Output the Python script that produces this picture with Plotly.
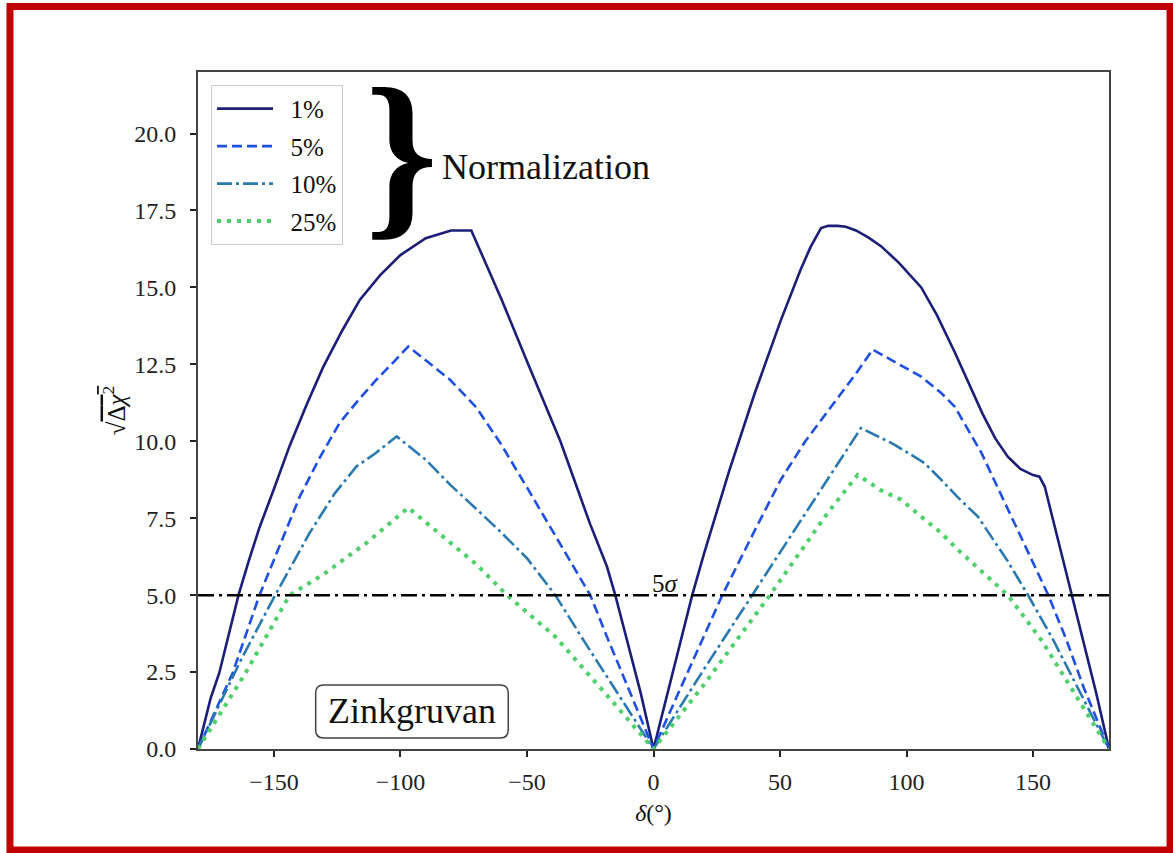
import plotly.graph_objects as go

# ---- data ----
x_1pct = [-180, -175, -171.6, -168, -164, -160, -155.7, -150, -143.8, -137, -130.6, -123, -116, -108, -100,
          -90, -80, -72, -60, -50, -36.8, -25, -18.4, -15.1, -10.4, -5, 0,
          5, 10, 15.3, 20, 30, 40, 50.3, 58, 62, 66.2, 69, 72.8, 76, 80, 85, 89.9, 97, 105.8, 112, 119,
          125, 130, 135, 140, 145, 150, 152.5, 154.6, 160, 165.2, 169.8, 175, 180]
y_1pct = [0, 1.65, 2.47, 3.7, 5.0, 6.1, 7.2, 8.45, 9.85, 11.2, 12.4, 13.6, 14.6, 15.4, 16.05,
          16.6, 16.85, 16.85, 14.6, 12.6, 10.0, 7.3, 5.93, 5.0, 3.54, 1.8, 0,
          1.65, 3.3, 5.0, 6.36, 9.06, 11.56, 13.93, 15.55, 16.3, 16.93, 17.0, 17.0, 16.97, 16.85, 16.62,
          16.34, 15.8, 15.0, 14.1, 12.9, 11.8, 10.9, 10.1, 9.5, 9.1, 8.9, 8.85, 8.53, 6.75, 5.0, 3.54, 1.8, 0]

x_5pct = [-180, -166.3, -155.7, -148, -139.8, -132, -124, -116, -109.5, -103, -96.9, -88, -80.4, -70, -60.6,
          -50, -40, -32, -25, -18.4, -10, 0,
          10, 20, 27.2, 40, 50.3, 60, 70, 80, 86.6, 95, 105.8, 113.7, 119, 129.6, 140, 150, 156, 163.2, 170, 180]
y_5pct = [0, 2.47, 5.0, 6.55, 8.2, 9.45, 10.6, 11.4, 12.0, 12.55, 13.08, 12.5, 12.0, 11.1, 9.95,
          8.5, 7.1, 6.0, 5.0, 3.65, 2.0, 0,
          1.85, 3.7, 5.0, 7.1, 8.75, 10.0, 11.1, 12.2, 12.98, 12.6, 12.1, 11.57, 11.13, 9.62, 7.8, 6.05, 5.0,
          3.54, 2.0, 0]

x_10pct = [-180, -163, -149.5, -135.9, -126, -117.4, -110, -101.5, -90, -80.4, -70, -60.6, -50, -38.8,
           -27.7, -15, 0,
           20, 39, 58.2, 70, 82, 95, 107, 113.7, 120, 128.2, 140, 148, 158, 180]
y_10pct = [0, 2.9, 5.0, 7.02, 8.3, 9.18, 9.6, 10.16, 9.4, 8.59, 7.8, 7.07, 6.2, 5.0,
           3.54, 1.9, 0,
           2.6, 5.0, 7.45, 8.9, 10.43, 9.9, 9.3, 8.75, 8.2, 7.55, 6.1, 5.0, 3.54, 0]

x_25pct = [-180, -161.2, -143.8, -130.7, -113.4, -96.9, -81.7, -70, -57.9, -38.8, -20, 0,
           20, 46, 68.8, 80.7, 90, 97.9, 105.8, 113.7, 120, 130, 140, 153.3, 165, 180]
y_25pct = [0, 2.47, 5.0, 5.66, 6.7, 7.84, 6.8, 6.0, 5.0, 3.65, 1.9, 0,
           2.1, 5.0, 7.67, 8.91, 8.4, 8.1, 7.55, 7.02, 6.5, 5.75, 5.0, 3.54, 2.0, 0]

series_names = ["1%", "5%", "10%", "25%"]
threshold = 5.0
x_range = [-180, 180]
y_range = [0, 22]
x_ticks = [-150, -100, -50, 0, 50, 100, 150]
y_ticks = [0, 2.5, 5, 7.5, 10, 12.5, 15, 17.5, 20]

FONT = "Liberation Serif"

fig = go.Figure()
styles = [
    dict(color="#1b1f78", width=2.6, dash="solid"),
    dict(color="#1f4fe3", width=2.6, dash="10px,5px"),
    dict(color="#2a7ab0", width=2.6, dash="15px,4px,3px,4px"),
    dict(color="#4fd06b", width=4, dash="4px,6px"),
]
for name, xs, ys, st in zip(series_names, [x_1pct, x_5pct, x_10pct, x_25pct],
                            [y_1pct, y_5pct, y_10pct, y_25pct], styles):
    fig.add_trace(go.Scatter(x=xs, y=ys, mode="lines", name="\u2002" + name, legendgroup=name, line=st))

# 5 sigma line
fig.add_trace(go.Scatter(x=x_range, y=[threshold, threshold], mode="lines", showlegend=False,
                         line=dict(color="black", width=2.5, dash="16px,5px,3px,5px")))

axis_common = dict(showgrid=False, zeroline=False, showline=True, mirror=True,
                   linecolor="#444", linewidth=1.8, ticks="outside", ticklen=6,
                   tickwidth=1.5, tickcolor="#222",
                   tickfont=dict(family=FONT, size=24, color="#222"))

fig.update_layout(
    width=1173, height=853,
    margin=dict(l=198, r=64, t=72, b=104),
    paper_bgcolor="white", plot_bgcolor="white",
    font=dict(family=FONT, color="#111"),
    xaxis=dict(range=x_range, tickvals=x_ticks, ticklabelstandoff=4,
               title=dict(text="<i>δ</i>(°)", font=dict(size=24), standoff=10),
               **axis_common),
    yaxis=dict(range=y_range, tickvals=y_ticks, tickformat=".1f", ticklabelstandoff=9,
               title=dict(text='√<span style="text-decoration:overline">Δ<i>χ</i><sup>2</sup></span>',
                          font=dict(size=25), standoff=2),
               **axis_common),
    legend=dict(x=0.0143, y=0.981, xanchor="left", yanchor="top", bgcolor="white",
                bordercolor="#cccccc", borderwidth=1, font=dict(family=FONT, size=25),
                itemwidth=56, tracegroupgap=2),
    showlegend=True,
)

# 5 sigma label
fig.add_annotation(x=4.8, y=threshold, text="5<i>σ</i>", showarrow=False, yanchor="bottom",
                   yshift=-4, font=dict(family=FONT, size=25, color="#111"))

# brace and Normalization
fig.add_annotation(x=-99.5, y=19.4, text="<b>}</b>", showarrow=False, xanchor="center", yanchor="middle",
                   font=dict(family=FONT, size=185, color="black"))
fig.add_annotation(x=-84.4, y=18.9, text="Normalization", showarrow=False, xanchor="left",
                   yanchor="middle", font=dict(family=FONT, size=36, color="#111"))

# Zinkgruvan box
bx0, bx1, by0, by1 = -133.5, -57.4, 0.36, 2.08
rx, ry = 3.2, 0.26
path = (f"M {bx0+rx},{by0} L {bx1-rx},{by0} Q {bx1},{by0} {bx1},{by0+ry} "
        f"L {bx1},{by1-ry} Q {bx1},{by1} {bx1-rx},{by1} L {bx0+rx},{by1} "
        f"Q {bx0},{by1} {bx0},{by1-ry} L {bx0},{by0+ry} Q {bx0},{by0} {bx0+rx},{by0} Z")
fig.add_shape(type="path", path=path, xref="x", yref="y", line=dict(color="#444", width=1.5),
              fillcolor="white", layer="above")
fig.add_annotation(x=(bx0+bx1)/2, y=(by0+by1)/2, text="Zinkgruvan", showarrow=False,
                   font=dict(family=FONT, size=36, color="#111"))

# red outer frame
fig.add_shape(type="rect", xref="paper", yref="paper", x0=-0.2064, x1=1.067, y0=-0.1492, y1=1.0968,
              line=dict(color="#c00000", width=7), layer="above")

fig.write_html("out.html", config={"displayModeBar": False},
               post_script="document.body.style.margin='0';")
